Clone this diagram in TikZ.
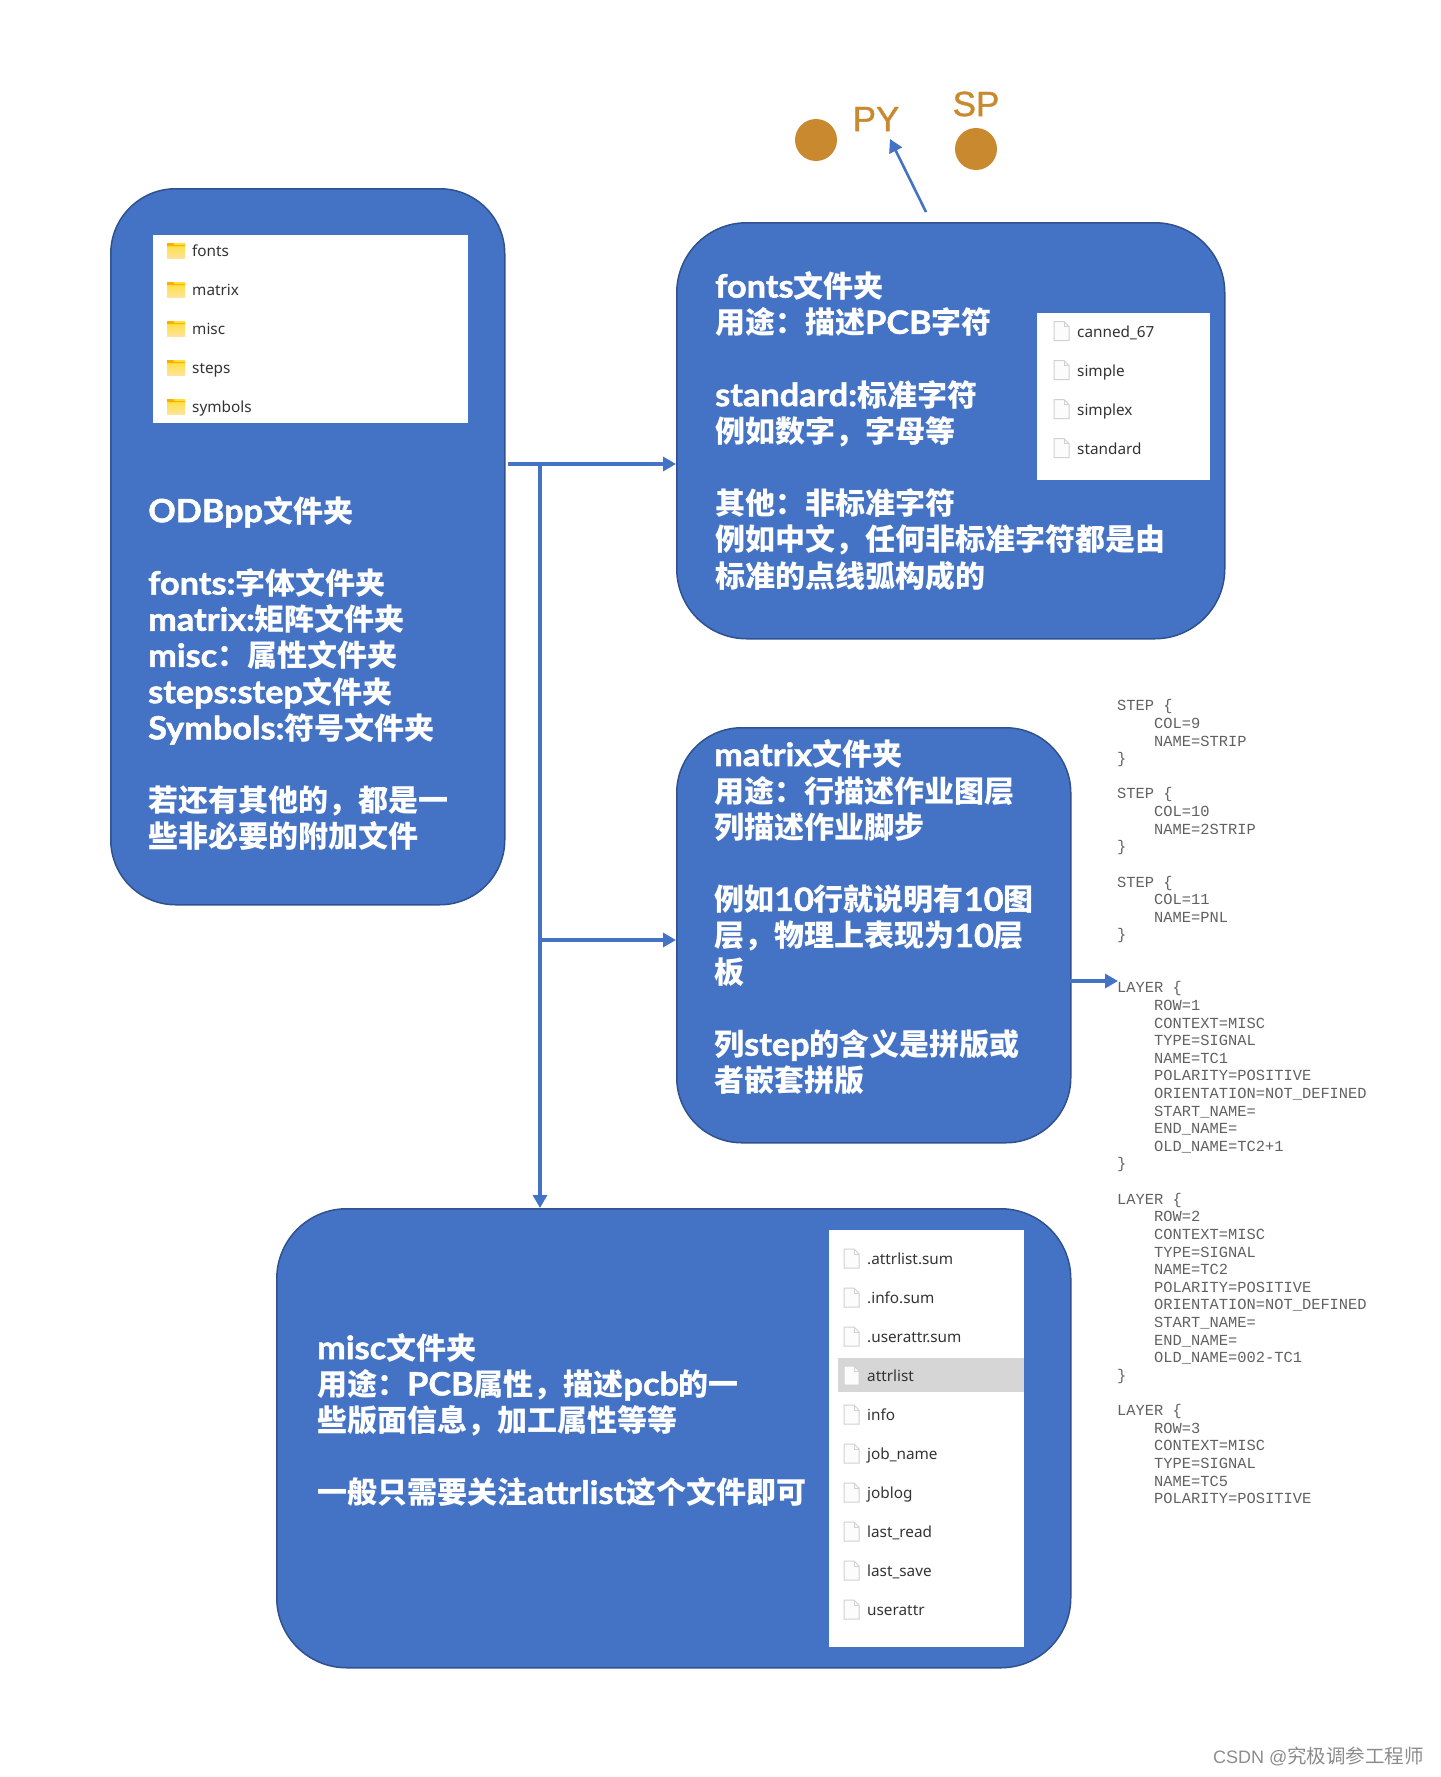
\documentclass[tikz,border=0pt]{standalone}
\usepackage{fontspec}
\usetikzlibrary{arrows.meta}
\setmainfont{Lato}
\newfontfamily\boldlat{Lato}[FakeBold=1.6,FakeStretch=1.07]
\newfontfamily\cjkf{Noto Sans CJK SC}[Scale=0.9375]
\newfontfamily\cjkwm{Noto Sans CJK SC}
\newfontfamily\listf{Noto Sans}
\newfontfamily\codef{Liberation Mono}
\newfontfamily\markf{Liberation Sans}
\newfontfamily\plotf{Liberation Sans}[FakeBold=1.2]
\newXeTeXintercharclass\cjkclass
\newcount\cc
\cc="4E00
\loop\ifnum\cc<"9FFF \XeTeXcharclass\cc=\cjkclass \advance\cc by 1 \repeat
\XeTeXcharclass"FF0C=\cjkclass
\XeTeXcharclass"FF1A=\cjkclass
\XeTeXinterchartoks 0 \cjkclass={\begingroup\cjkf}
\XeTeXinterchartoks 4095 \cjkclass={\begingroup\cjkf}
\XeTeXinterchartoks \cjkclass 0={\endgroup}
\XeTeXinterchartoks \cjkclass 4095={\endgroup}
\XeTeXinterchartokenstate=1
\definecolor{boxblue}{HTML}{4472C4}
\definecolor{boxedge}{HTML}{2F528F}
\definecolor{dotc}{HTML}{C98A2F}
\tikzset{
  x=1pt,y=-1pt,
  bigbox/.style={draw=boxedge,line width=1.5pt,fill=boxblue,rounded corners=#1,inner sep=0pt,anchor=north west},
  panel/.style={fill=white,inner sep=0pt,anchor=north west},
  boxtext/.style={text=white,font=\boldlat\fontsize{32}{36.2}\selectfont\bfseries,align=left,inner sep=0pt,anchor=west},
  listtext/.style={text=black!80,font=\listf\fontsize{15.3}{18}\selectfont,inner sep=0pt,anchor=base west},
  codetext/.style={text=black!62,font=\codef\fontsize{15.4}{17.62}\selectfont,align=left,inner sep=0pt,anchor=north west},
  flow/.style={draw=boxblue,line width=3.2pt,-{Stealth[length=13pt,width=14pt,inset=0pt]}},
  dotn/.style={circle,fill=dotc,minimum size=42pt,inner sep=0pt},
  pylabel/.style={text=dotc,font=\plotf\fontsize{35}{35}\selectfont,inner sep=0pt},
  folder/.pic={
    \fill[top color=yellow!70!orange!80,bottom color=yellow!45!orange!40!white] (0,-8) rectangle (18,7);
    \fill[orange!65!yellow] (0,-8) -- (0,-5) -- (18,-5) -- (18,-6) -- (7,-6) -- (6,-8) -- cycle;
  },
  fileicon/.pic={
    \draw[black!18,fill=black!1,line width=1pt] (0,-10) -- (10,-10) -- (15,-5) -- (15,9) -- (0,9) -- cycle;
    \draw[black!18,line width=.8pt] (10,-10) -- (10,-5) -- (15,-5);
  }
}
\begin{document}
\begin{tikzpicture}
\useasboundingbox (0,0) rectangle (1440,1777);

% big boxes
\node[bigbox=65pt,minimum width=394pt,minimum height=716pt] (odb) at (110,188) {};
\node[bigbox=70pt,minimum width=548pt,minimum height=416pt] (fonts) at (676,222) {};
\node[bigbox=65pt,minimum width=394pt,minimum height=415pt] (matrix) at (676,727) {};
\node[bigbox=70pt,minimum width=794pt,minimum height=459pt] (misc) at (276,1208) {};

% white panels
\node[panel,minimum width=315pt,minimum height=188pt] (p1) at (153,235) {};
\node[panel,minimum width=173pt,minimum height=167pt] (p2) at (1037,313) {};
\node[panel,minimum width=195pt,minimum height=417pt] (p3) at (829,1230) {};
\node[fill=black!16,inner sep=0pt,anchor=north west,minimum width=186pt,minimum height=34pt] (hl) at (838,1358) {};

% folder list
\foreach \t/\y in {fonts/251,matrix/290,misc/329,steps/368,symbols/407}{
  \pic at (167,\y) {folder};
  \node[listtext] (f-\t) at (192,{\y+5.5}) {\t};
}
% font files
\foreach \t/\y in {canned\_67/331.5,simple/370.5,simplex/409.5,standard/448.5}{
  \pic at (1054,\y) {fileicon};
  \node[listtext] at (1077,{\y+5.5}) {\t};
}
% misc files
\foreach \t/\y in {.attrlist.sum/1259,.info.sum/1298,.userattr.sum/1337,attrlist/1376,info/1415,job\_name/1454,joblog/1493,last\_read/1532,last\_save/1571,userattr/1610}{
  \pic at (844,\y) {fileicon};
  \node[listtext] at (867,{\y+5.5}) {\t};
}

% box texts
\node[boxtext] (t1) at (148,673.5) {ODBpp文件夹\\[36.2pt]fonts:字体文件夹\\matrix:矩阵文件夹\\misc：属性文件夹\\steps:step文件夹\\Symbols:符号文件夹\\[36.2pt]若还有其他的，都是一\\些非必要的附加文件};
\node[boxtext] (t2) at (715,431) {fonts文件夹\\用途：描述PCB字符\\[36.2pt]standard:标准字符\\例如数字，字母等\\[36.2pt]其他：非标准字符\\例如中文，任何非标准字符都是由\\标准的点线弧构成的};
\node[boxtext] (t3) at (714,917.5) {matrix文件夹\\用途：行描述作业图层\\列描述作业脚步\\[36.2pt]例如10行就说明有10图\\层，物理上表现为10层\\板\\[36.2pt]列step的含义是拼版或\\者嵌套拼版};
\node[boxtext] (t4) at (317,1420) {misc文件夹\\用途：PCB属性，描述pcb的一\\些版面信息，加工属性等等\\[36.2pt]一般只需要关注attrlist这个文件即可};

% dots
\node[dotn] (pydot) at (816,140) {};
\node[dotn] (spdot) at (976,149) {};
\node[pylabel] (py) at (876,119) {PY};
\node[pylabel] (sp) at (976,104) {SP};

% code listing
\node[codetext] (code) at (1117,699.5) {%
STEP \{\\
\ \ \ \ COL=9\\
\ \ \ \ NAME=STRIP\\
\}\\[17.62pt]
STEP \{\\
\ \ \ \ COL=10\\
\ \ \ \ NAME=2STRIP\\
\}\\[17.62pt]
STEP \{\\
\ \ \ \ COL=11\\
\ \ \ \ NAME=PNL\\
\}\\[35.24pt]
LAYER \{\\
\ \ \ \ ROW=1\\
\ \ \ \ CONTEXT=MISC\\
\ \ \ \ TYPE=SIGNAL\\
\ \ \ \ NAME=TC1\\
\ \ \ \ POLARITY=POSITIVE\\
\ \ \ \ ORIENTATION=NOT\_DEFINED\\
\ \ \ \ START\_NAME=\\
\ \ \ \ END\_NAME=\\
\ \ \ \ OLD\_NAME=TC2+1\\
\}\\[17.62pt]
LAYER \{\\
\ \ \ \ ROW=2\\
\ \ \ \ CONTEXT=MISC\\
\ \ \ \ TYPE=SIGNAL\\
\ \ \ \ NAME=TC2\\
\ \ \ \ POLARITY=POSITIVE\\
\ \ \ \ ORIENTATION=NOT\_DEFINED\\
\ \ \ \ START\_NAME=\\
\ \ \ \ END\_NAME=\\
\ \ \ \ OLD\_NAME=002-TC1\\
\}\\[17.62pt]
LAYER \{\\
\ \ \ \ ROW=3\\
\ \ \ \ CONTEXT=MISC\\
\ \ \ \ TYPE=SIGNAL\\
\ \ \ \ NAME=TC5\\
\ \ \ \ POLARITY=POSITIVE};

% connectors
\coordinate (busstart) at (508,464);
\coordinate (bus) at (540,464);
\coordinate (busmid) at (540,940);
\coordinate (pyfrom) at (926,212);
\coordinate (pyto) at (890,139);
\coordinate (layerfrom) at (1070,981);
\coordinate (layerto) at (1118,981);
\draw[flow] (busstart) -- (busstart -| fonts.west);
\draw[flow] (bus) -- (bus |- misc.north);
\draw[flow] (busmid) -- (busmid -| matrix.west);
\draw[flow,line width=2.6pt] (pyfrom) -- (pyto);
\draw[flow] (layerfrom) -- (layerto);

% watermark
\node[inner sep=0pt,anchor=east,text=black!45,font=\markf\fontsize{18}{24}\selectfont] (wm) at (1424,1756) {CSDN @\XeTeXinterchartokenstate=0 \cjkwm\fontsize{19.5}{24}\selectfont 究极调参工程师};
\end{tikzpicture}
\end{document}
